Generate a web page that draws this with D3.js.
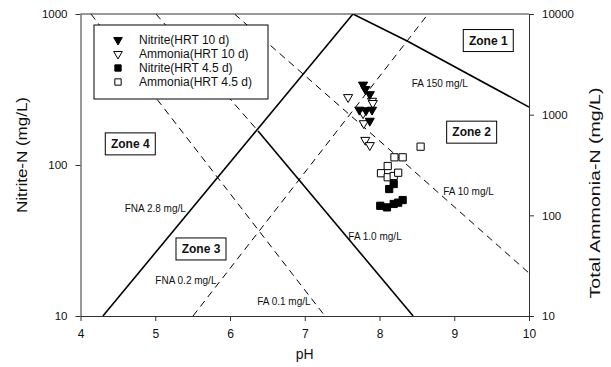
<!DOCTYPE html>
<html>
<head>
<meta charset="utf-8">
<script src="https://cdn.jsdelivr.net/npm/d3@7"></script>
<style>
  body { margin: 0; background: #fff; }
  text { font-family: "Liberation Sans", Arial, sans-serif; fill: #111; }
</style>
</head>
<body>
<div class="box"></div>
<script>
// tick labels
const phTicks = [4, 5, 6, 7, 8, 9, 10]
const nitriteTicks = [10, 100, 1000]
const ammoniaTicks = [10, 100, 1000, 10000]

// measured points [pH, mg/L]
const nitrite10 = [[7.78, 340], [7.81, 318], [7.87, 294], [7.73, 232], [7.82, 230], [7.90, 232], [7.87, 196]]
const ammonia10 = [[7.58, 1490], [7.90, 1370], [7.91, 1300], [7.78, 1030], [7.79, 820], [7.81, 560], [7.87, 497]]
const nitrite45 = [[8.01, 53.7], [8.10, 52.4], [8.19, 55.2], [8.25, 56.3], [8.31, 58.6], [8.13, 69.3], [8.19, 74.8]]
const ammonia45 = [[8.55, 481], [8.20, 377], [8.31, 377], [8.11, 309], [8.02, 262], [8.11, 239], [8.19, 246], [8.25, 265]]

// threshold lines [pH, mg/L]
const fna28 = [[4.30, 10], [7.645, 1000]]              // nitrite axis
const fna02 = [[5.505, 10], [8.65, 1000]]              // nitrite axis
const fa01 = [[4.14, 10000], [7.27, 10]]               // ammonia axis
const fa1Upper = [[5.01, 10000], [6.375, 689]]         // ammonia axis
const fa1Lower = [[6.375, 689], [8.45, 10]]
const fa10 = [[6.06, 10000], [8.37, 316], [10, 26.7]]
const fa150 = [[7.645, 10000], [8.37, 5400], [10, 1190]]

const legendNames = ['Nitrite(HRT 10 d)', 'Ammonia(HRT 10 d)', 'Nitrite(HRT 4.5 d)', 'Ammonia(HRT 4.5 d)']

// labels placed at [pH, nitrite mg/L]
const zoneNames = ['Zone 1', 'Zone 2', 'Zone 3', 'Zone 4']
const zonePos = [[9.455, 667], [9.233, 165], [5.612, 27.8], [4.666, 138]]
const lineNames = ['FA 0.1 mg/L', 'FA 1.0 mg/L', 'FA 10 mg/L', 'FA 150 mg/L', 'FNA 2.8 mg/L', 'FNA 0.2 mg/L']
const linePos = [[6.364, 12.4], [7.583, 33.5], [8.853, 66.5], [8.431, 344], [4.591, 51.7], [5.001, 17.1]]

const boxWidth = 611
const boxHeight = 367

const x = d3.scaleLinear().domain([4, 10]).range([80.5, 529])
const yLeft = d3.scaleLog().domain([10, 1000]).range([316, 14])
const yRight = d3.scaleLog().domain([10, 10000]).range([316, 14])

const svg = d3.select('.box')
    .append('svg')
    .attr('width', boxWidth)
    .attr('height', boxHeight)

svg.append('defs').append('clipPath').attr('id', 'plot')
    .append('rect')
    .attr('x', x(4)).attr('y', yLeft(1000))
    .attr('width', x(10) - x(4)).attr('height', yLeft(10) - yLeft(1000))

const lines = svg.append('g').attr('clip-path', 'url(#plot)')

function drawLine(pts, yScale, dashed) {
    const gen = d3.line().x(d => x(d[0])).y(d => yScale(d[1]))
    lines.append('path')
        .attr('d', gen(pts))
        .attr('fill', 'none')
        .attr('stroke', '#000')
        .attr('stroke-width', dashed ? 1 : 1.6)
        .attr('stroke-dasharray', dashed ? '7,5' : null)
}

drawLine(fa01, yRight, true)
drawLine(fa1Upper, yRight, true)
drawLine(fa10, yRight, true)
drawLine(fna02, yLeft, true)
drawLine(fa1Lower, yRight, false)
drawLine(fa150, yRight, false)
drawLine(fna28, yLeft, false)

// axes
const fmt = d3.format('d')
const axisBottom = svg.append('g')
    .attr('transform', `translate(0, ${yLeft(10)})`)
    .call(d3.axisBottom(x).tickValues(phTicks).tickFormat(fmt).tickSize(5).tickSizeOuter(0).tickPadding(8))
const axisLeft = svg.append('g')
    .attr('transform', `translate(${x(4)}, 0)`)
    .call(d3.axisLeft(yLeft).tickValues(nitriteTicks).tickFormat(fmt).tickSize(5).tickSizeOuter(0).tickPadding(8))
const axisRight = svg.append('g')
    .attr('transform', `translate(${x(10)}, 0)`)
    .call(d3.axisRight(yRight).tickValues(ammoniaTicks).tickFormat(fmt).tickSize(5).tickSizeOuter(0).tickPadding(8))

svg.selectAll('.domain, .tick line').attr('stroke', '#333')
axisBottom.selectAll('text').attr('font-size', 12)
axisLeft.selectAll('text').attr('font-size', 11.5)
axisRight.selectAll('text').attr('font-size', 11.5)
svg.selectAll('.tick text').attr('font-family', '"Liberation Sans", Arial, sans-serif').attr('fill', '#111')

svg.append('line')
    .attr('x1', x(4)).attr('x2', x(10))
    .attr('y1', yLeft(1000)).attr('y2', yLeft(1000))
    .attr('stroke', '#333')

// axis titles
svg.append('text')
    .attr('x', x(7)).attr('y', 359)
    .attr('text-anchor', 'middle')
    .attr('font-size', 14)
    .text('pH')
svg.append('text')
    .attr('transform', 'translate(27, 155) rotate(-90)')
    .attr('text-anchor', 'middle')
    .attr('font-size', 14)
    .attr('textLength', 116)
    .attr('lengthAdjust', 'spacingAndGlyphs')
    .text('Nitrite-N (mg/L)')
svg.append('text')
    .attr('transform', 'translate(600, 193) rotate(-90)')
    .attr('text-anchor', 'middle')
    .attr('font-size', 14)
    .attr('textLength', 211)
    .attr('lengthAdjust', 'spacingAndGlyphs')
    .text('Total Ammonia-N (mg/L)')

// line labels
svg.selectAll('.linelabel')
    .data(lineNames).enter()
    .append('text')
    .attr('x', (d, i) => x(linePos[i][0]))
    .attr('y', (d, i) => yLeft(linePos[i][1]))
    .attr('dy', '0.35em')
    .attr('font-size', 10)
    .text(d => d)

// zone boxes
const zones = svg.selectAll('.zone')
    .data(zoneNames).enter()
    .append('g')
    .attr('transform', (d, i) => `translate(${x(zonePos[i][0])}, ${yLeft(zonePos[i][1])})`)
zones.append('rect')
    .attr('x', -25).attr('y', -11)
    .attr('width', 50).attr('height', 22)
    .attr('fill', '#fff')
    .attr('stroke', '#000')
zones.append('text')
    .attr('text-anchor', 'middle')
    .attr('dy', '0.36em')
    .attr('font-size', 12)
    .attr('font-weight', 'bold')
    .text(d => d)

// points
const triDown = d3.symbol().type(d3.symbolTriangle).size(36)
const square = d3.symbol().type(d3.symbolSquare).size(52)

function drawPoints(pts, yScale, sym, filled, rotate) {
    svg.append('g').selectAll('path')
        .data(pts).enter()
        .append('path')
        .attr('d', sym())
        .attr('transform', d => `translate(${x(d[0])}, ${yScale(d[1])})${rotate ? ' rotate(180)' : ''}`)
        .attr('fill', filled ? '#000' : '#fff')
        .attr('stroke', '#000')
        .attr('stroke-width', 1)
}

drawPoints(ammonia10, yRight, triDown, false, true)
drawPoints(nitrite10, yLeft, triDown, true, true)
drawPoints(ammonia45, yRight, square, false, false)
drawPoints(nitrite45, yLeft, square, true, false)

// legend
const legend = svg.append('g').attr('transform', 'translate(94, 25)')
legend.append('rect')
    .attr('width', 174).attr('height', 74)
    .attr('fill', '#fff')
    .attr('stroke', '#000')
const legendSyms = [[triDown, true, true], [triDown, false, true], [square, true, false], [square, false, false]]
const rows = legend.selectAll('.row')
    .data(legendNames).enter()
    .append('g')
    .attr('transform', (d, i) => `translate(24, ${15 + i * 14})`)
rows.append('path')
    .attr('d', (d, i) => legendSyms[i][0].size(i < 2 ? 32 : 40)())
    .attr('transform', (d, i) => legendSyms[i][2] ? 'rotate(180)' : null)
    .attr('fill', (d, i) => legendSyms[i][1] ? '#000' : '#fff')
    .attr('stroke', '#000')
rows.append('text')
    .attr('x', 21)
    .attr('dy', '0.36em')
    .attr('font-size', 12)
    .text(d => d)
</script>
</body>
</html>
